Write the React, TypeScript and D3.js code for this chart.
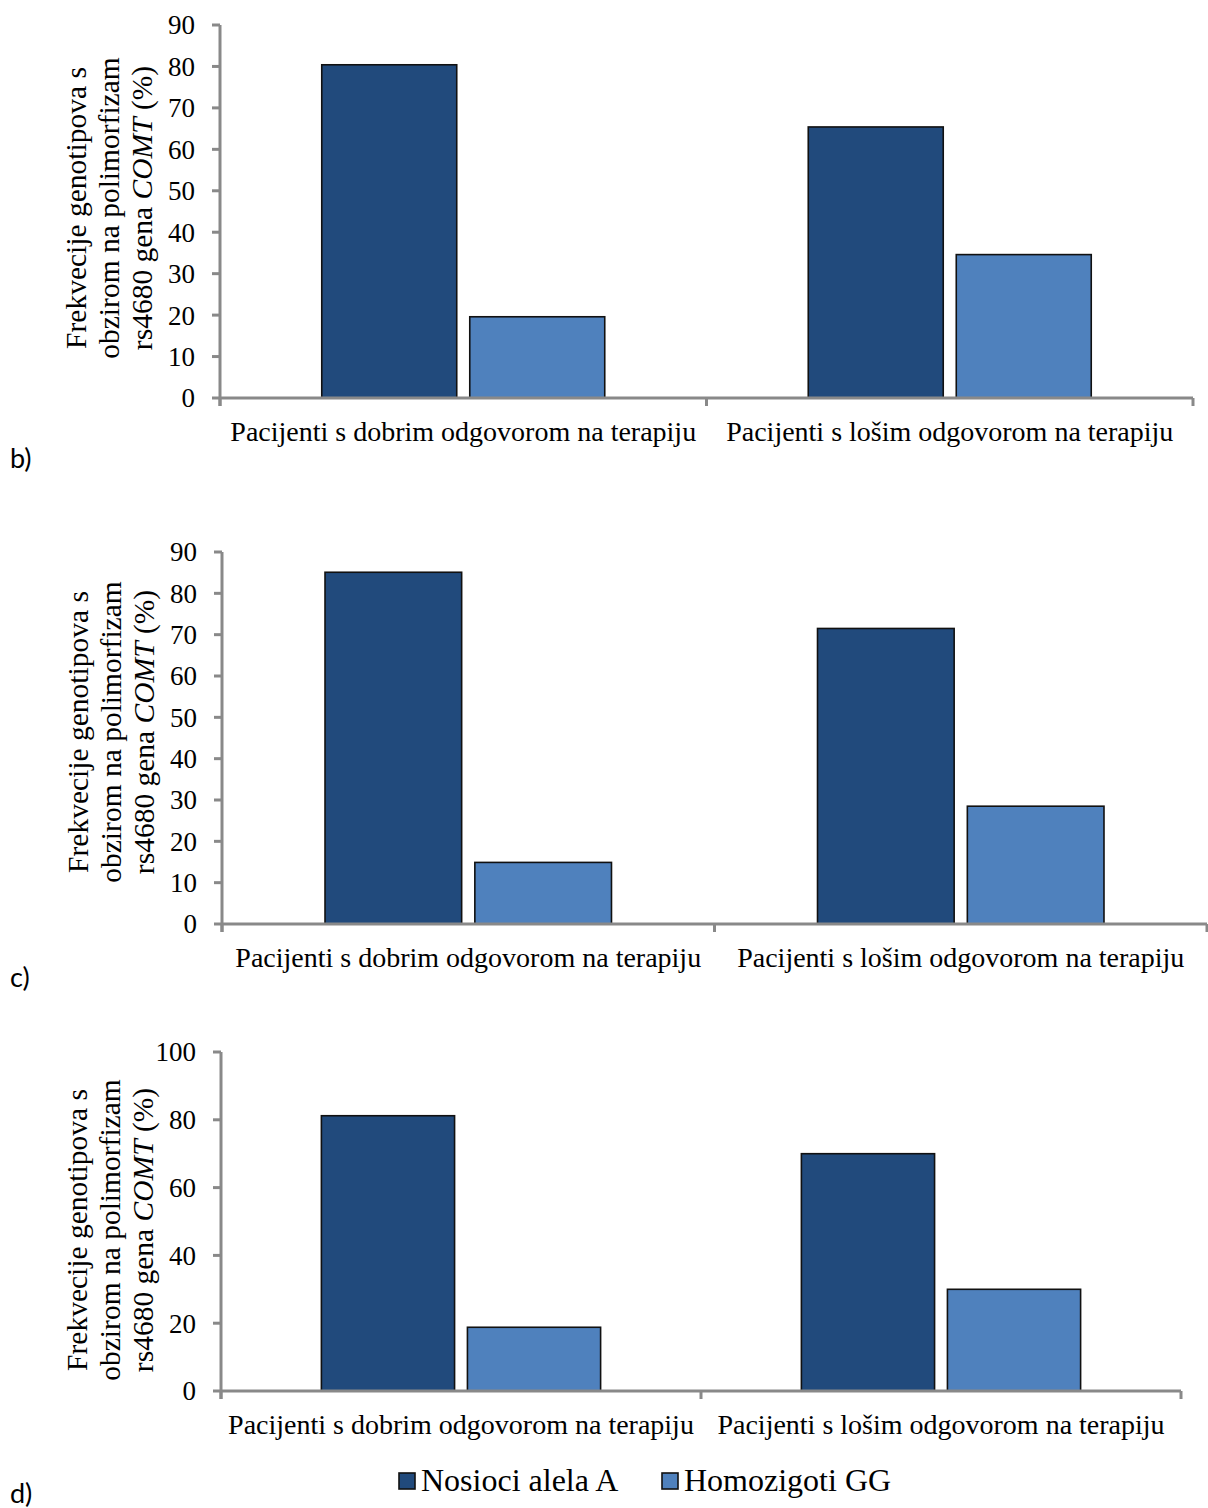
import React from "react";
import * as d3 from "d3";

// ---------- data ----------
const categories = [
  "Pacijenti s dobrim odgovorom na terapiju",
  "Pacijenti s lošim odgovorom na terapiju",
];
const seriesNames = ["Nosioci alela A", "Homozigoti GG"];
const seriesColors = ["#214A7C", "#4F81BD"];

const panelLabels = ["b)", "c)", "d)"];

const carriersB = [80.4, 65.4];
const homozygotesB = [19.6, 34.6];
const carriersC = [85.1, 71.5];
const homozygotesC = [14.9, 28.5];
const carriersD = [81.2, 70.0];
const homozygotesD = [18.8, 30.0];

const ticksBC = [0, 10, 20, 30, 40, 50, 60, 70, 80, 90];
const ticksD = [0, 20, 40, 60, 80, 100];

const titleLine1 = "Frekvecije genotipova s";
const titleLine2 = "obzirom na polimorfizam";
const titleLine3a = "rs4680 gena ";
const titleLine3b = "COMT";
const titleLine3c = " (%)";

// ---------- layout (positions/styles only) ----------
const layouts = [
  { x0: 220, x1: 1193, yTop: 25, yBot: 398, max: 90, titleY: 208, letterY: 468 },
  { x0: 222, x1: 1207, yTop: 552, yBot: 924, max: 90, titleY: 732, letterY: 987 },
  { x0: 221, x1: 1181, yTop: 1052, yBot: 1391, max: 100, titleY: 1230, letterY: 1503 },
];

const panelData = [
  { values: [carriersB, homozygotesB], ticks: ticksBC },
  { values: [carriersC, homozygotesC], ticks: ticksBC },
  { values: [carriersD, homozygotesD], ticks: ticksD },
];

const SERIF = "'Liberation Serif', 'Times New Roman', serif";
const SANS = "Lato, Carlito, 'Open Sans', sans-serif";
const AXIS = "#898989";
const TITLE_FS = 29.5;

function Panel({ idx }: { idx: number }) {
  const L = layouts[idx];
  const D = panelData[idx];
  const x0 = d3.scaleBand<string>().domain(categories).range([L.x0, L.x1]).padding(0);
  const x1 = d3
    .scaleBand<string>()
    .domain(seriesNames)
    .range([0, x0.bandwidth()])
    .paddingInner(0.088)
    .paddingOuter(0.6875);
  const y = d3.scaleLinear().domain([0, L.max]).range([L.yBot, L.yTop]);

  const boundaries = [L.x0, ...categories.map((c) => (x0(c) as number) + x0.bandwidth())];

  return (
    <g>
      {/* bars */}
      {categories.map((c, ci) =>
        seriesNames.map((s, si) => {
          const v = D.values[si][ci];
          const bx = (x0(c) as number) + (x1(s) as number);
          return (
            <rect
              key={c + s}
              x={bx}
              y={y(v)}
              width={x1.bandwidth()}
              height={y(0) - y(v)}
              fill={seriesColors[si]}
              stroke="#111"
              strokeWidth={1.6}
            />
          );
        })
      )}
      {/* y axis */}
      <line x1={L.x0} x2={L.x0} y1={y(L.max)} y2={L.yBot + 8} stroke={AXIS} strokeWidth={3} />
      {D.ticks.map((t) => (
        <g key={t}>
          <line x1={L.x0 - 8} x2={L.x0} y1={y(t)} y2={y(t)} stroke={AXIS} strokeWidth={3} />
          <text
            x={L.x0 - 25}
            y={y(t)}
            dy="0.35em"
            textAnchor="end"
            fontFamily={SERIF}
            fontSize={27}
            fill="#000"
          >
            {t}
          </text>
        </g>
      ))}
      {/* x axis */}
      <line x1={L.x0} x2={L.x1} y1={L.yBot} y2={L.yBot} stroke={AXIS} strokeWidth={3} />
      {boundaries.map((bx, i) => (
        <line key={i} x1={bx} x2={bx} y1={L.yBot} y2={L.yBot + 8} stroke={AXIS} strokeWidth={3} />
      ))}
      {categories.map((c) => (
        <text
          key={c}
          x={(x0(c) as number) + x0.bandwidth() / 2}
          y={L.yBot + 43}
          textAnchor="middle"
          fontFamily={SERIF}
          fontSize={28}
          fill="#000"
        >
          {c}
        </text>
      ))}
      {/* y title */}
      <text
        transform={`translate(${L.x0 - 134},${L.titleY}) rotate(-90)`}
        textAnchor="middle"
        fontFamily={SERIF}
        fontSize={TITLE_FS}
        fill="#000"
      >
        {titleLine1}
      </text>
      <text
        transform={`translate(${L.x0 - 101},${L.titleY}) rotate(-90)`}
        textAnchor="middle"
        fontFamily={SERIF}
        fontSize={TITLE_FS}
        fill="#000"
      >
        {titleLine2}
      </text>
      <text
        transform={`translate(${L.x0 - 68},${L.titleY}) rotate(-90)`}
        textAnchor="middle"
        fontFamily={SERIF}
        fontSize={TITLE_FS}
        fill="#000"
      >
        {titleLine3a}
        <tspan fontStyle="italic">{titleLine3b}</tspan>
        {titleLine3c}
      </text>
      {/* panel letter */}
      <text x={10} y={L.letterY} fontFamily={SANS} fontSize={27} fill="#000">
        {panelLabels[idx]}
      </text>
    </g>
  );
}

export default function App() {
  const legendX = [399, 662];
  return (
    <svg
      width={1208}
      height={1508}
      viewBox="0 0 1208 1508"
      style={{ position: "absolute", left: 0, top: 0, background: "#fff" }}
    >
      <rect x={0} y={0} width={1208} height={1508} fill="#fff" />
      {layouts.map((_, i) => (
        <Panel key={i} idx={i} />
      ))}
      {seriesNames.map((s, i) => (
        <g key={s}>
          <rect
            x={legendX[i]}
            y={1473}
            width={16}
            height={16}
            fill={seriesColors[i]}
            stroke="#111"
            strokeWidth={1.6}
          />
          <text x={legendX[i] + 22} y={1491} fontFamily={SERIF} fontSize={32} fill="#000">
            {s}
          </text>
        </g>
      ))}
    </svg>
  );
}
